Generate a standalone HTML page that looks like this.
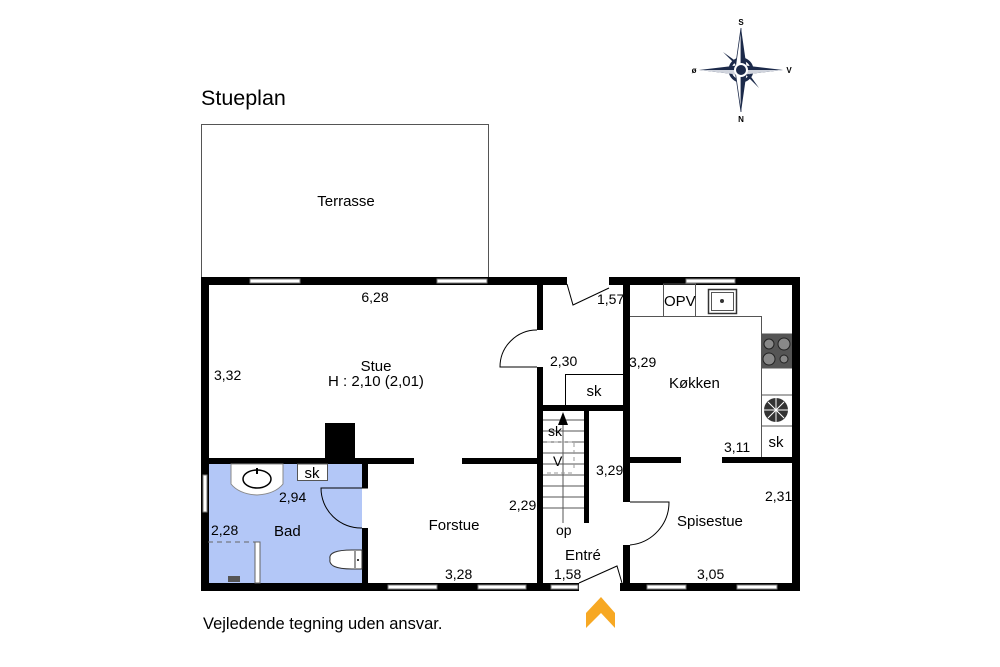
<!DOCTYPE html>
<html><head><meta charset="utf-8"><style>
html,body{margin:0;padding:0;background:#fff;}
svg{display:block;font-family:"Liberation Sans",Arial,sans-serif;}
</style></head><body>
<svg width="1000" height="667" viewBox="0 0 1000 667" xmlns="http://www.w3.org/2000/svg">
<rect width="1000" height="667" fill="#fff"/>
<text x="201" y="105" font-size="21.5" fill="#000">Stueplan</text>
<text x="203" y="629" font-size="16.5" fill="#000">Vejledende tegning uden ansvar.</text>
<rect x="201.5" y="124.5" width="287" height="153" fill="none" stroke="#555" stroke-width="1"/>
<text x="346" y="206" font-size="15" text-anchor="middle">Terrasse</text>
<rect x="208" y="464" width="154" height="119" fill="#b3c7f7"/>
<g fill="#000">
<rect x="201" y="277" width="366" height="8"/>
<rect x="609" y="277" width="191" height="8"/>
<rect x="201" y="277" width="8" height="314"/>
<rect x="792" y="277" width="8" height="314"/>
<rect x="201" y="583" width="378" height="8"/>
<rect x="620" y="583" width="180" height="8"/>
<rect x="537" y="284" width="6" height="46"/>
<rect x="537" y="367" width="6" height="216"/>
<rect x="208" y="458" width="206" height="6"/>
<rect x="462" y="458" width="75" height="6"/>
<rect x="325" y="423" width="30" height="37"/>
<rect x="362" y="464" width="6" height="24"/>
<rect x="362" y="528" width="6" height="55"/>
<rect x="623" y="284" width="7" height="218"/>
<rect x="623" y="545" width="7" height="38"/>
<rect x="543" y="405" width="87" height="6"/>
<rect x="584" y="405" width="5" height="118"/>
<rect x="630" y="457" width="51" height="6"/>
<rect x="722" y="457" width="70" height="6"/>
</g>
<g fill="#fff" stroke="#777" stroke-width="1">
<rect x="250" y="279" width="50" height="4"/>
<rect x="437" y="279" width="50" height="4"/>
<rect x="686" y="279" width="49" height="4"/>
<rect x="388" y="585" width="49" height="4"/>
<rect x="478" y="585" width="48" height="4"/>
<rect x="551" y="585" width="27" height="4"/>
<rect x="647" y="585" width="39" height="4"/>
<rect x="737" y="585" width="40" height="4"/>
<rect x="203" y="475" width="4" height="37"/>
</g>
<g fill="none" stroke="#000" stroke-width="1">
<path d="M537 330 A37 37 0 0 0 500 367 L537 367"/>
<path d="M567 284 L573 305 L609 288"/>
<path d="M579 583 L617 566 L622 583"/>
<path d="M630 502 L669 502 A43 43 0 0 1 630 545"/>
<path d="M368 488 L321 488 A40 40 0 0 0 362 528"/>
</g>
<rect x="565.5" y="374.5" width="58" height="31" fill="#fff" stroke="#000" stroke-width="1"/>
<text x="594" y="396" font-size="15" text-anchor="middle">sk</text>
<g stroke="#555" stroke-width="1">
<line x1="543" y1="420" x2="584" y2="420"/><line x1="543" y1="431" x2="584" y2="431"/>
<line x1="543" y1="442" x2="584" y2="442"/><line x1="543" y1="453" x2="584" y2="453"/>
<line x1="543" y1="464" x2="584" y2="464"/><line x1="543" y1="475" x2="584" y2="475"/>
<line x1="543" y1="486" x2="584" y2="486"/><line x1="543" y1="497" x2="584" y2="497"/>
<line x1="543" y1="508" x2="584" y2="508"/>
<line x1="563" y1="420" x2="563" y2="523"/>
</g>
<g stroke="#999" stroke-width="1" stroke-dasharray="4,3" fill="none">
<path d="M547 442 H574 V470"/>
<line x1="547" y1="473" x2="574" y2="473"/>
</g>
<path d="M563 412 L558 425 L568 425 Z" fill="#000"/>
<text x="548" y="436" font-size="14">sk</text>
<text x="553" y="466" font-size="14">V</text>
<text x="556" y="535" font-size="14">op</text>
<g fill="none" stroke="#555" stroke-width="1">
<path d="M630 316.5 H761.5 V457"/>
<rect x="663.5" y="284" width="32" height="32.5"/>
<rect x="708.5" y="289.5" width="28" height="24" stroke="#333" stroke-width="1.5"/>
<rect x="711.5" y="292.5" width="22" height="18"/>
<line x1="761" y1="334" x2="792" y2="334"/>
<line x1="761" y1="368" x2="792" y2="368"/>
<line x1="761" y1="395" x2="792" y2="395"/>
<line x1="761" y1="426" x2="792" y2="426"/>
</g>
<circle cx="722" cy="301" r="2" fill="#333"/>
<text x="664" y="306" font-size="15">OPV</text>
<rect x="761" y="334" width="31" height="34" fill="#555"/>
<g fill="#888" stroke="#222" stroke-width="1">
<circle cx="769" cy="344" r="5"/><circle cx="784" cy="344" r="6"/>
<circle cx="769" cy="359" r="6"/><circle cx="784" cy="359" r="4"/>
</g>
<circle cx="776" cy="410" r="12" fill="#333"/>
<g stroke="#fff" stroke-width="1"><line x1="764" y1="410" x2="788" y2="410"/><line x1="776" y1="398" x2="776" y2="422"/><line x1="768" y1="402" x2="784" y2="418"/><line x1="784" y1="402" x2="768" y2="418"/></g>
<text x="776" y="447" font-size="15" text-anchor="middle">sk</text>
<path d="M231 464 V484 Q239 494 257 495 Q275 494 283 484 V464 Z" fill="#fff" stroke="#888" stroke-width="1"/>
<ellipse cx="257" cy="479" rx="14" ry="9" fill="none" stroke="#000" stroke-width="1.5"/>
<line x1="257" y1="468" x2="257" y2="474" stroke="#000" stroke-width="2"/>
<rect x="297.5" y="464" width="30" height="16.5" fill="#fff" stroke="#555" stroke-width="1"/>
<text x="312" y="478" font-size="15" text-anchor="middle">sk</text>
<path d="M362 550 H352 Q328 550 330 559 Q328 569 352 569 H362 Z" fill="#fff" stroke="#333" stroke-width="1"/>
<line x1="355" y1="551" x2="355" y2="568" stroke="#333" stroke-width="1"/>
<circle cx="358" cy="560" r="1" fill="#000"/>
<line x1="208" y1="542" x2="257" y2="542" stroke="#666" stroke-width="1" stroke-dasharray="5,4"/>
<rect x="255" y="542" width="5" height="41" fill="#fff" stroke="#666" stroke-width="1"/>
<rect x="228" y="576" width="12" height="6" fill="#555"/>
<g font-size="15" fill="#000">
<text x="376" y="371" text-anchor="middle">Stue</text>
<text x="376" y="386" text-anchor="middle">H : 2,10 (2,01)</text>
<text x="375" y="302" text-anchor="middle" font-size="14">6,28</text>
<text x="214" y="380" font-size="14">3,32</text>
<text x="274" y="536">Bad</text>
<text x="279" y="502" font-size="14">2,94</text>
<text x="211" y="535" font-size="14">2,28</text>
<text x="454" y="530" text-anchor="middle">Forstue</text>
<text x="509" y="510" font-size="14">2,29</text>
<text x="445" y="579" font-size="14">3,28</text>
<text x="597" y="304" font-size="14">1,57</text>
<text x="550" y="366" font-size="14">2,30</text>
<text x="629" y="367" font-size="14">3,29</text>
<text x="669" y="388">Køkken</text>
<text x="724" y="452" font-size="14">3,11</text>
<text x="596" y="475" font-size="14">3,29</text>
<text x="765" y="501" font-size="14">2,31</text>
<text x="677" y="526">Spisestue</text>
<text x="565" y="560">Entré</text>
<text x="554" y="579" font-size="14">1,58</text>
<text x="697" y="579" font-size="14">3,05</text>
</g>
<path d="M586 613 L601 597 L615 613 L615 628 L601 613 L586 628 Z" fill="#f7a823"/>
<g transform="translate(741,70)">
<g fill="#1c2a4a">
<path d="M-18 -18 L-3 -3 L3 3 L18 18 L3 -3 Z"/>
<path d="M18 -18 L3 -3 L-18 18 L-3 3 Z"/>
</g>
<circle r="11" fill="none" stroke="#1c2a4a" stroke-width="3"/>
<path d="M0 -42 L6 0 L0 42 L-6 0 Z" fill="#1c2a4a"/>
<path d="M0 -42 L0 42 L-6 0 Z" fill="#fff" stroke="#1c2a4a" stroke-width="0.8"/>
<path d="M-42 0 L0 -5 L42 0 L0 5 Z" fill="#1c2a4a"/>
<path d="M-42 0 L42 0 L0 5 Z" fill="#cfd3dc"/>
<circle r="6" fill="#1c2a4a" stroke="#fff" stroke-width="2"/>
<text x="0" y="-45" font-size="8" font-weight="bold" text-anchor="middle">S</text>
<text x="0" y="52" font-size="8" font-weight="bold" text-anchor="middle">N</text>
<text x="-47" y="3" font-size="8" font-weight="bold" text-anchor="middle">ø</text>
<text x="48" y="3" font-size="8" font-weight="bold" text-anchor="middle">V</text>
</g>
</svg>
</body></html>
